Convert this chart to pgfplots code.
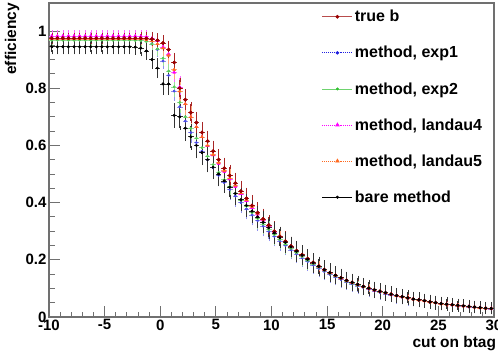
\documentclass[border=0pt]{standalone}
\usepackage{pgfplots}
\usepackage{pgfplotstable}
\pgfplotsset{compat=1.18}
\usepackage{fontspec}
\setmainfont{Liberation Sans}
\definecolor{trueb}{HTML}{990000}
\definecolor{eone}{HTML}{2020E0}
\definecolor{etwo}{HTML}{30C030}
\definecolor{lfour}{HTML}{FF00FF}
\definecolor{lfive}{HTML}{FF6A20}
\definecolor{frame}{HTML}{707070}
\pgfplotstableread{
x tb e1 e2 l4 l5 bm ey eb
-9.75 0.975 0.970 0.968 0.983 0.972 0.945 0.012 0.020
-9.25 0.975 0.970 0.968 0.983 0.972 0.945 0.012 0.020
-8.75 0.975 0.970 0.968 0.983 0.972 0.945 0.012 0.020
-8.25 0.975 0.970 0.968 0.983 0.972 0.945 0.012 0.020
-7.75 0.975 0.970 0.968 0.983 0.972 0.945 0.012 0.020
-7.25 0.975 0.970 0.968 0.983 0.972 0.945 0.012 0.020
-6.75 0.975 0.970 0.968 0.983 0.972 0.945 0.012 0.020
-6.25 0.975 0.970 0.968 0.983 0.972 0.945 0.012 0.020
-5.75 0.975 0.970 0.968 0.983 0.972 0.945 0.012 0.020
-5.25 0.975 0.970 0.968 0.983 0.972 0.945 0.012 0.020
-4.75 0.975 0.970 0.968 0.983 0.972 0.945 0.012 0.020
-4.25 0.975 0.970 0.968 0.983 0.972 0.945 0.012 0.020
-3.75 0.975 0.970 0.968 0.983 0.972 0.945 0.012 0.020
-3.25 0.975 0.970 0.968 0.983 0.972 0.945 0.012 0.020
-2.75 0.975 0.970 0.968 0.983 0.972 0.945 0.012 0.020
-2.25 0.975 0.969 0.967 0.983 0.972 0.944 0.012 0.020
-1.75 0.975 0.968 0.966 0.982 0.972 0.940 0.014 0.022
-1.25 0.974 0.965 0.963 0.980 0.970 0.930 0.015 0.024
-0.75 0.972 0.955 0.955 0.975 0.965 0.900 0.016 0.026
-0.25 0.968 0.935 0.938 0.965 0.955 0.870 0.018 0.028
0.25 0.958 0.895 0.905 0.945 0.940 0.815 0.020 0.030
0.75 0.935 0.845 0.860 0.920 0.915 0.815 0.024 0.032
1.25 0.890 0.790 0.805 0.855 0.865 0.705 0.027 0.036
1.75 0.800 0.735 0.750 0.805 0.790 0.700 0.030 0.038
2.25 0.760 0.685 0.700 0.745 0.745 0.660 0.030 0.038
2.75 0.715 0.645 0.660 0.700 0.700 0.630 0.030 0.038
3.25 0.680 0.610 0.625 0.665 0.665 0.600 0.030 0.038
3.75 0.645 0.580 0.592 0.630 0.630 0.575 0.030 0.037
4.25 0.615 0.550 0.562 0.598 0.600 0.550 0.030 0.037
4.75 0.580 0.522 0.533 0.566 0.568 0.524 0.030 0.036
5.25 0.550 0.495 0.506 0.536 0.540 0.500 0.030 0.036
5.75 0.520 0.470 0.480 0.508 0.512 0.476 0.030 0.035
6.25 0.495 0.446 0.456 0.482 0.486 0.454 0.030 0.035
6.75 0.468 0.423 0.432 0.456 0.460 0.432 0.030 0.034
7.25 0.440 0.400 0.409 0.430 0.434 0.410 0.030 0.034
7.75 0.415 0.378 0.387 0.406 0.410 0.390 0.030 0.033
8.25 0.390 0.357 0.365 0.382 0.386 0.370 0.030 0.033
8.75 0.365 0.337 0.344 0.359 0.362 0.350 0.029 0.032
9.25 0.343 0.318 0.325 0.338 0.341 0.331 0.029 0.032
9.75 0.322 0.300 0.306 0.318 0.320 0.312 0.028 0.031
10.25 0.300 0.282 0.288 0.298 0.299 0.294 0.028 0.031
10.75 0.282 0.266 0.271 0.280 0.281 0.277 0.027 0.030
11.25 0.265 0.250 0.255 0.263 0.264 0.261 0.027 0.030
11.75 0.248 0.235 0.240 0.247 0.247 0.245 0.026 0.029
12.25 0.232 0.221 0.225 0.231 0.231 0.230 0.026 0.029
12.75 0.218 0.207 0.211 0.216 0.217 0.216 0.025 0.028
13.25 0.204 0.194 0.198 0.203 0.203 0.202 0.025 0.028
13.75 0.191 0.182 0.186 0.190 0.190 0.189 0.024 0.027
14.25 0.178 0.170 0.174 0.177 0.177 0.177 0.024 0.027
14.75 0.166 0.159 0.162 0.165 0.165 0.165 0.023 0.026
15.25 0.155 0.149 0.152 0.154 0.154 0.155 0.023 0.026
15.75 0.146 0.140 0.143 0.145 0.145 0.146 0.022 0.025
16.25 0.137 0.131 0.134 0.136 0.136 0.137 0.022 0.025
16.75 0.128 0.123 0.125 0.127 0.127 0.128 0.021 0.024
17.25 0.121 0.116 0.118 0.120 0.120 0.121 0.021 0.024
17.75 0.114 0.109 0.111 0.113 0.113 0.114 0.020 0.023
18.25 0.107 0.103 0.105 0.106 0.106 0.107 0.020 0.023
18.75 0.101 0.097 0.099 0.100 0.100 0.101 0.020 0.022
19.25 0.095 0.091 0.093 0.094 0.094 0.095 0.019 0.022
19.75 0.090 0.086 0.088 0.089 0.089 0.090 0.019 0.021
20.25 0.085 0.081 0.083 0.084 0.084 0.085 0.018 0.021
20.75 0.080 0.077 0.078 0.079 0.079 0.080 0.018 0.020
21.25 0.075 0.072 0.074 0.075 0.074 0.075 0.018 0.020
21.75 0.071 0.068 0.070 0.071 0.070 0.071 0.017 0.020
22.25 0.067 0.064 0.066 0.067 0.066 0.067 0.017 0.019
22.75 0.063 0.061 0.062 0.063 0.062 0.063 0.017 0.019
23.25 0.060 0.058 0.059 0.060 0.059 0.060 0.016 0.019
23.75 0.057 0.055 0.056 0.056 0.056 0.057 0.016 0.018
24.25 0.053 0.051 0.052 0.053 0.052 0.053 0.016 0.018
24.75 0.050 0.048 0.049 0.050 0.049 0.050 0.015 0.018
25.25 0.047 0.046 0.046 0.047 0.046 0.047 0.015 0.017
25.75 0.045 0.043 0.044 0.045 0.044 0.045 0.015 0.017
26.25 0.043 0.041 0.042 0.043 0.042 0.043 0.014 0.017
26.75 0.041 0.039 0.040 0.041 0.040 0.041 0.014 0.016
27.25 0.039 0.037 0.038 0.039 0.038 0.039 0.014 0.016
27.75 0.037 0.035 0.036 0.037 0.036 0.037 0.013 0.016
28.25 0.035 0.033 0.034 0.035 0.034 0.035 0.013 0.015
28.75 0.033 0.032 0.032 0.033 0.032 0.033 0.013 0.015
29.25 0.031 0.030 0.030 0.031 0.030 0.031 0.012 0.015
29.75 0.030 0.028 0.029 0.030 0.029 0.030 0.012 0.014
}\data
\begin{document}
\begin{tikzpicture}
\begin{axis}[
  scale only axis, width=445pt, height=314pt,
  xmin=-10, xmax=30, ymin=0, ymax=1.098,
  axis line style={frame, line width=1.6pt},
  tick style={frame, line width=1pt},
  tick align=inside, xtick pos=bottom, ytick pos=left,
  major tick length=11pt, minor tick length=5.5pt,
  xtick={-10,-5,0,5,10,15,20,25,30},
  xticklabels={-10,-5,0,5,10,15,20,25,30},
  ytick={0,0.2,0.4,0.6,0.8,1},
  yticklabels={0,0.2,0.4,0.6,0.8,1},
  minor x tick num=4, minor y tick num=3,
  ticklabel style={font=\fontsize{15}{17}\selectfont\bfseries},
  xticklabel style={yshift=1pt},
  yticklabel style={xshift=1pt},
  label style={font=\fontsize{15.5}{17}\selectfont\bfseries},
  ylabel={efficiency},
  ylabel style={at={(axis description cs:-0.066,1)}, anchor=south east, inner sep=0pt},
  xlabel={cut on btag},
  xlabel style={at={(axis description cs:1.005,-0.062)}, anchor=north east, inner sep=0pt},
  legend style={at={(rel axis cs:0.613,0.984)}, anchor=north west, draw=none, fill=none,
    font=\fontsize{16}{18}\selectfont\bfseries, row sep=19pt, inner sep=0pt},
  legend cell align=left,
  legend image code/.code={\draw[mark repeat=2,mark phase=2,#1] plot coordinates {(0pt,0pt) (15pt,0pt) (30pt,0pt)};},
  xb/.style={only marks, forget plot, error bars/x dir=both, error bars/x fixed=0.25, error bars/error mark=none},
  yb/.style={only marks, forget plot, error bars/y dir=both, error bars/y explicit, error bars/error mark options={mark size=2pt}},
]
\addlegendimage{color=trueb!70!white, line width=0.7pt, mark=*, mark options={fill=trueb, draw=trueb}, mark size=1.5pt}
\addlegendentry{true b}
\addlegendimage{color=eone, densely dotted, line width=0.9pt, mark=*, mark options={solid}, mark size=1.2pt}
\addlegendentry{method, exp1}
\addlegendimage{color=etwo!70!white, line width=0.5pt, mark=*, mark options={fill=etwo,draw=etwo}, mark size=1.2pt}
\addlegendentry{method, exp2}
\addlegendimage{color=lfour, densely dotted, line width=0.9pt, mark=triangle*, mark options={solid}, mark size=1.8pt}
\addlegendentry{method, landau4}
\addlegendimage{color=lfive, densely dotted, line width=0.9pt, mark=triangle*, mark options={solid}, mark size=1.8pt}
\addlegendentry{method, landau5}
\addlegendimage{color=black, line width=0.7pt, mark=*, mark size=1.2pt}
\addlegendentry{bare method}

\addplot[xb, color=eone!80, mark=*, mark size=1.1pt, error bars/error bar style={line width=0.5pt, eone!50}]
  table[x=x, y=e1]{\data};
\addplot[yb, color=eone!80, mark=*, mark size=1.1pt, error bars/error bar style={line width=0.5pt, eone!50}]
  table[x=x, y=e1, y error=ey]{\data};
\addplot[xb, color=etwo!80, mark=*, mark size=1.1pt, error bars/error bar style={line width=0.5pt, etwo!50}]
  table[x=x, y=e2]{\data};
\addplot[yb, color=etwo!80, mark=*, mark size=1.1pt, error bars/error bar style={line width=0.5pt, etwo!50}]
  table[x=x, y=e2, y error=ey]{\data};
\addplot[xb, color=lfour, mark=triangle*, mark size=1.5pt, error bars/error bar style={line width=0.5pt, lfour!60}]
  table[x=x, y=l4]{\data};
\addplot[yb, color=lfour, mark=triangle*, mark size=1.5pt, error bars/error bar style={line width=0.5pt, lfour!60}]
  table[x=x, y=l4, y error=ey]{\data};
\addplot[xb, color=lfive, mark=triangle*, mark size=1.5pt, error bars/error bar style={line width=0.5pt, lfive!60}]
  table[x=x, y=l5]{\data};
\addplot[yb, color=lfive, mark=triangle*, mark size=1.5pt, error bars/error bar style={line width=0.5pt, lfive!60}]
  table[x=x, y=l5, y error=ey]{\data};
\addplot[xb, color=trueb, mark=*, mark size=1.6pt, error bars/error bar style={line width=0.8pt, trueb!85}]
  table[x=x, y=tb]{\data};
\addplot[yb, color=trueb, mark=*, mark size=1.6pt, error bars/error bar style={line width=0.8pt, trueb!85}]
  table[x=x, y=tb, y error=ey]{\data};
\addplot[xb, color=black, mark=*, mark size=1.2pt, error bars/error bar style={line width=0.7pt, black!80}]
  table[x=x, y=bm]{\data};
\addplot[yb, color=black, mark=*, mark size=1.2pt, error bars/error bar style={line width=0.7pt, black!80}]
  table[x=x, y=bm, y error=eb]{\data};
\end{axis}
\pgfresetboundingbox
\path (-49pt,-39pt) rectangle (449pt,317pt);
\end{tikzpicture}
\end{document}
